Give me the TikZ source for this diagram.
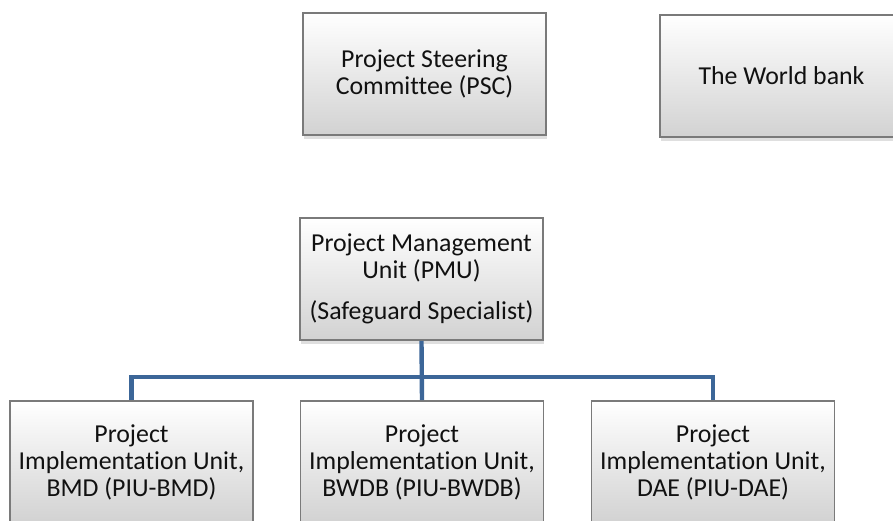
\documentclass[tikz,border=0pt]{standalone}
\usepackage{fontspec}
\setmainfont{Carlito}[Ligatures=NoCommon]
\usetikzlibrary{positioning,shadows}
\definecolor{ink}{HTML}{111111}
\definecolor{frame}{HTML}{7A7A7A}
\definecolor{boxbottom}{HTML}{D2D2D2}
\definecolor{linkblue}{HTML}{3C6698}
\tikzset{
  unit/.style={draw=frame, line width=1.1pt, top color=white, bottom color=boxbottom,
    minimum width=4.86cm, minimum height=2.44cm, align=center, inner sep=1pt,
    text=ink, font=\fontsize{14.7}{15.4}\selectfont,
    drop shadow={shadow xshift=0.5pt, shadow yshift=-2pt, opacity=0.25}},
  link/.style={draw=linkblue, line width=2.5pt}
}

\begin{document}
\begin{tikzpicture}
\useasboundingbox (0,0) rectangle (17.86,10.42);
% top row
\node[unit] (psc) at (8.49,8.94) {Project Steering\\Committee (PSC)};
\node[unit] (wb) at (15.63,8.90) {The World bank};
% management unit
\node[unit] (pmu) at (8.43,4.84) {Project Management\\Unit (PMU)\\[8pt](Safeguard Specialist)};
% implementation units
\node[unit] (bmd) at (2.63,1.18) {Project\\Implementation Unit,\\BMD (PIU-BMD)};
\node[unit] (bwdb) at (8.44,1.18) {Project\\Implementation Unit,\\BWDB (PIU-BWDB)};
\node[unit] (dae) at (14.26,1.18) {Project\\Implementation Unit,\\DAE (PIU-DAE)};
% connectors
\coordinate (bus) at (8.43,2.88);
\draw[link] (pmu.south) -- (bwdb.north);
\draw[link] (bmd.north) |- (bus) -| (dae.north);
\end{tikzpicture}
\end{document}
